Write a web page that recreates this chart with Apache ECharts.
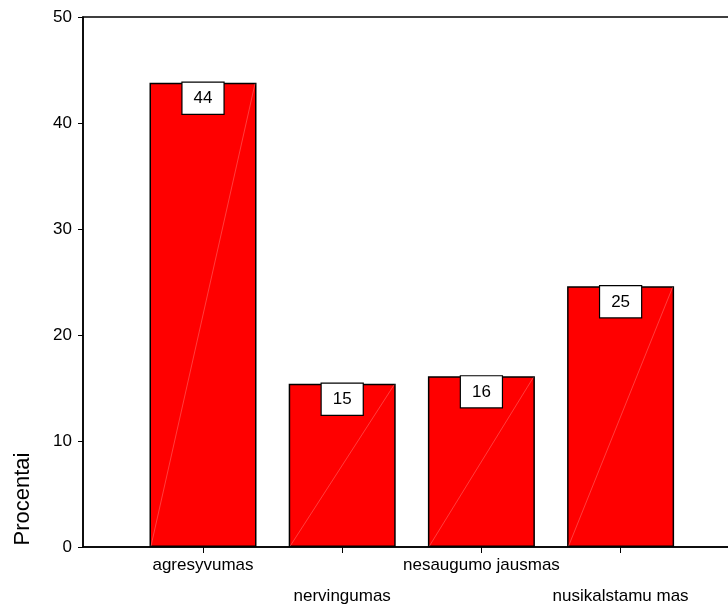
<!DOCTYPE html>
<html>
<head>
<meta charset="utf-8">
<script src="https://cdn.jsdelivr.net/npm/echarts@6/dist/echarts.min.js"></script>
<style>
html,body{margin:0;padding:0;background:#fff;}
#main{width:728px;height:605px;}
</style>
</head>
<body>
<div id="main"></div>
<script>
var categories = ['agresyvumas', 'nervingumas', 'nesaugumo jausmas', 'nusikalstamu mas'];
var values = [43.8, 15.4, 16.1, 24.6];
var yTicks = {min: 0, max: 50, interval: 10};
var yName = 'Procentai';

var FONT = '"Liberation Sans", Arial, sans-serif';
var BAR_W = 107;
var chart = echarts.init(document.getElementById('main'), null, {renderer: 'canvas'});
var option = {
  animation: false,
  backgroundColor: '#fff',
  grid: [
    {left: 83, right: -3, top: 17, bottom: 58, show: true, borderColor: '#000', borderWidth: 1.5,
     backgroundColor: 'transparent', containLabel: false, outerBoundsMode: 'none'},
    {left: 133.4, width: 556.8, top: 17, bottom: 58, containLabel: false, outerBoundsMode: 'none'}
  ],
  xAxis: [
    {gridIndex: 0, type: 'value', min: 0, max: 1,
     axisLine: {show: true, lineStyle: {color: '#000', width: 1.5}},
     axisTick: {show: false}, axisLabel: {show: false}, splitLine: {show: false}},
    {gridIndex: 1, type: 'category', data: categories, boundaryGap: true,
     axisLine: {show: false},
     axisTick: {show: true, alignWithLabel: true, length: 6, lineStyle: {color: '#000', width: 1}},
     axisLabel: {color: '#000', fontFamily: FONT, fontSize: 17, lineHeight: 31, margin: 3, interval: 0,
       formatter: function (v, i) { return i % 2 === 1 ? '\n' + v : v; }},
     splitLine: {show: false}}
  ],
  yAxis: [
    {gridIndex: 0, type: 'value', min: yTicks.min, max: yTicks.max, interval: yTicks.interval,
     axisLine: {show: true, lineStyle: {color: '#000', width: 1.5}},
     axisTick: {show: true, length: 5, lineStyle: {color: '#000', width: 1}},
     axisLabel: {color: '#000', fontFamily: FONT, fontSize: 17, margin: 11},
     splitLine: {show: false}},
    {gridIndex: 1, type: 'value', min: yTicks.min, max: yTicks.max, interval: yTicks.interval, show: false}
  ],
  graphic: [
    {type: 'text', x: 23, y: 499, rotation: Math.PI / 2,
     style: {text: yName, fill: '#000', font: '22px ' + FONT, textAlign: 'center', textVerticalAlign: 'middle'}}
  ],
  series: [{
    type: 'bar',
    xAxisIndex: 1, yAxisIndex: 1,
    data: values,
    barWidth: BAR_W,
    z: 2,
    itemStyle: {color: '#ff0000', borderColor: '#000', borderWidth: 1.5},
    label: {
      show: true, position: 'insideTop', distance: 0,
      formatter: function (p) { return Math.round(p.value); },
      color: '#000', fontFamily: FONT, fontSize: 17, lineHeight: 18,
      backgroundColor: '#fff', borderColor: '#000', borderWidth: 1.2,
      padding: [7, 11, 6, 11]
    }
  }, {
    type: 'custom',
    xAxisIndex: 1, yAxisIndex: 1,
    data: values.map(function (v, i) { return [i, v]; }),
    silent: true,
    z: 5,
    renderItem: function (params, api) {
      var top = api.coord([api.value(0), api.value(1)]);
      var bot = api.coord([api.value(0), 0]);
      var hw = BAR_W / 2;
      return {
        type: 'line',
        shape: {x1: bot[0] - hw + 1.5, y1: bot[1] - 1, x2: top[0] + hw - 1.5, y2: top[1] + 1},
        style: {stroke: 'rgba(255,170,170,0.6)', lineWidth: 0.6}
      };
    }
  }]
};
chart.setOption(option);
</script>
</body>
</html>
